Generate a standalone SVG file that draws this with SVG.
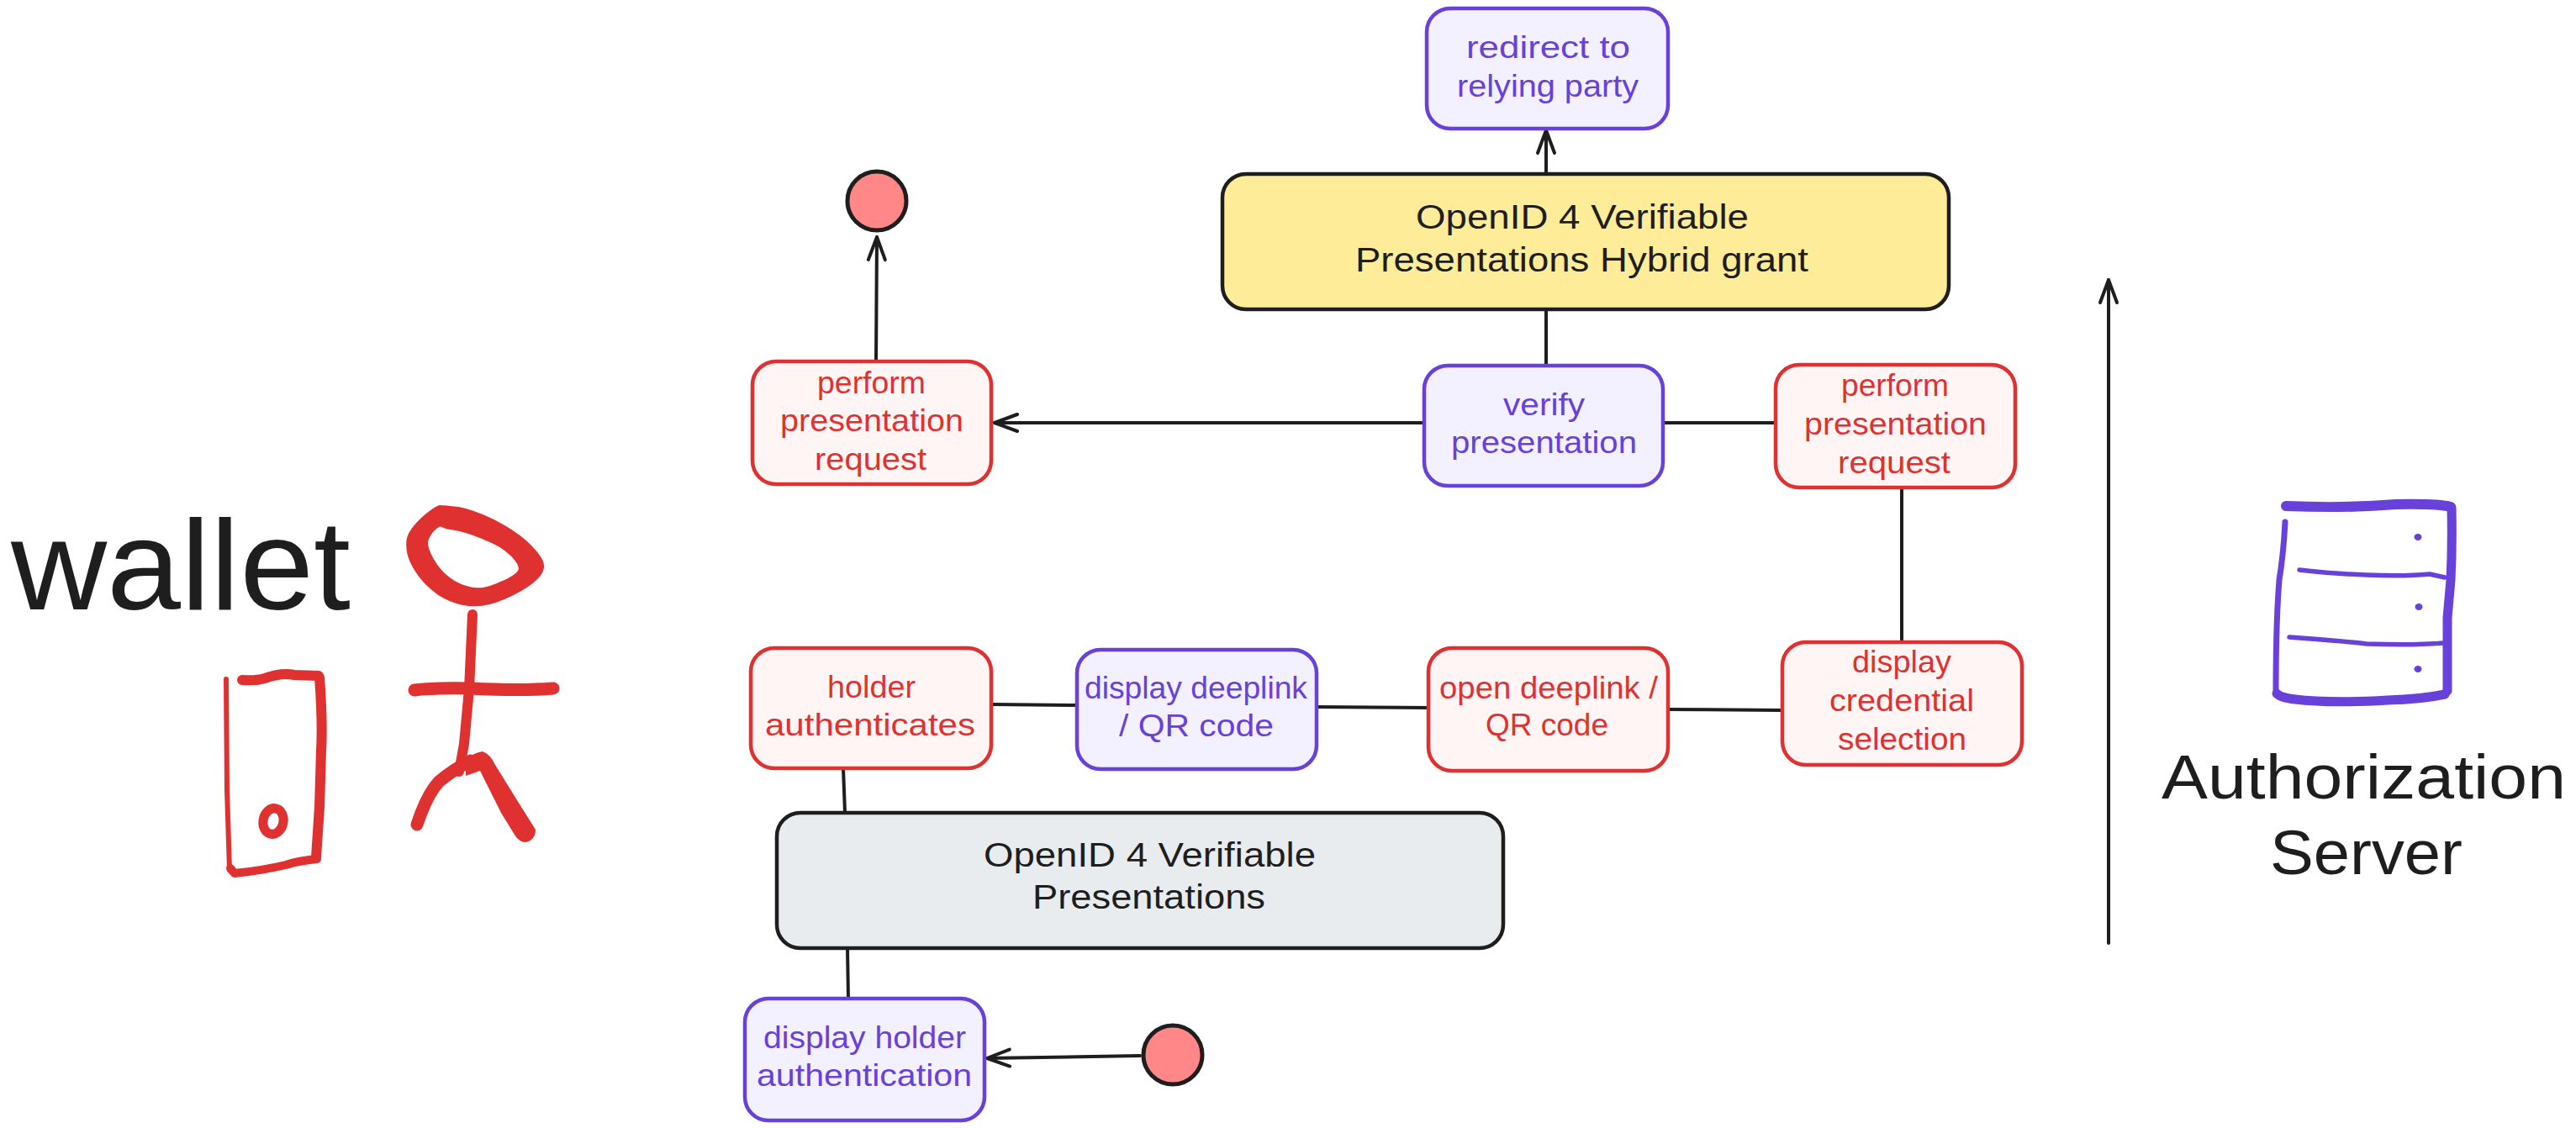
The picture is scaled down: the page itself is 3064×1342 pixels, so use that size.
<svg xmlns="http://www.w3.org/2000/svg" width="3064" height="1342" viewBox="0 0 3064 1342">
<style>
text{font-family:"Liberation Sans",Arial,sans-serif;font-size:37px;white-space:pre}
.k{fill:#1e1e1e}.r{fill:#e03131}.p{fill:#6741d9}
.big{font-size:40px}
.box{stroke-width:4.5}
.red{fill:#fff5f5;stroke:#e03131}
.pur{fill:#f3f0ff;stroke:#6741d9}
.yel{fill:#ffec99;stroke:#1e1e1e}
.gry{fill:#e9ecef;stroke:#1e1e1e}
.dot{fill:#ff8787;stroke:#1e1e1e;stroke-width:5}
.c{fill:none;stroke:#1e1e1e;stroke-width:4;stroke-linecap:round}
.s{fill:none;stroke-linecap:round;stroke-linejoin:round}
.sr{stroke:#e03131}.sp{stroke:#6741d9}
</style>
<defs>
<marker id="arr" markerUnits="userSpaceOnUse" markerWidth="40" markerHeight="32" refX="33" refY="16" orient="auto">
<path d="M6,6 L33,16 L6,26" fill="none" stroke="#1e1e1e" stroke-width="4" stroke-linecap="round" stroke-linejoin="round"/>
</marker>
</defs>
<rect width="3064" height="1342" fill="#ffffff"/>
<g id="connectors">
<path class="c" marker-end="url(#arr)" d="M1839,207 L1839,155"/>
<path class="c" d="M1839,368 L1839,435"/>
<path class="c" marker-end="url(#arr)" d="M1042,430 L1043,282"/>
<path class="c" marker-end="url(#arr)" d="M1694,503 L1183,503"/>
<path class="c" d="M1978,503 L2112,503"/>
<path class="c" d="M2262,580 L2262,764"/>
<path class="c" d="M1179,838 L1281,839"/>
<path class="c" d="M1566,841 L1699,842"/>
<path class="c" d="M1984,844 L2120,845"/>
<path class="c" d="M1003,914 L1005,967"/>
<path class="c" d="M1008,1128 L1009,1188"/>
<path class="c" marker-end="url(#arr)" d="M1356,1256 L1174,1259"/>
<path class="c" marker-end="url(#arr)" d="M2508,1122 L2508,333"/>
</g>
<g id="wallet-label"><text class="k" x="13" y="725" style="font-size:152px" textLength="404" lengthAdjust="spacingAndGlyphs">wallet</text></g>
<g id="person">
<path fill="#e03131" stroke="#e03131" stroke-width="4" stroke-linejoin="round" fill-rule="evenodd" d="M523,603 Q529,603 545,605 Q562,608 587,620 Q612,633 625,645 Q638,657 643,666 Q648,675 641,684 Q634,693 616,703 Q598,713 582,717 Q567,721 551,718 Q536,715 522,706 Q509,697 500,685 Q491,673 487,661 Q484,650 486,640 Q489,630 503,617 Q518,604 523,603Z M526,625 Q531,628 542,629 Q554,631 576,640 Q598,648 610,661 Q623,675 617,681 Q612,688 591,696 Q571,704 558,700 Q545,697 533,688 Q522,680 514,666 Q507,653 507,646 Q507,640 514,631 Q522,623 526,625Z"/>
<path class="s sr" stroke-width="12" d="M562,731 L558,820 L552,885 L546,918"/>
<path class="s sr" stroke-width="15" d="M493,821 Q520,818 560,819 Q620,822 658,819"/>
<path class="s sr" stroke-width="15" d="M496,981 Q508,945 522,930 Q540,915 560,905"/>
<path fill="#e03131" d="M554,903 Q565,895 574,894 Q583,897 589,910 L620,960 L637,987 Q637,993 634,997 Q630,1002 623,1002 Q616,1000 612,993 L596,967 L571,917 L554,923Z"/>
</g>
<g id="phone">
<path class="s sr" stroke-width="6" d="M269,808 L270,940 L273,1035"/>
<path class="s sr" stroke-width="12" d="M288,809 Q305,810 315,807 Q335,800 350,803 L379,804"/>
<path class="s sr" stroke-width="12" d="M380,806 Q384,860 382,893 L380,960 L376,1020"/>
<path class="s sr" stroke-width="10" d="M377,1022 Q355,1024 340,1029 Q310,1036 279,1039 L274,1033"/>
<ellipse cx="325" cy="977" rx="12" ry="15.5" fill="none" stroke="#e03131" stroke-width="11" transform="rotate(12 325 977)"/>
</g>
<g id="server">
<path class="s sp" stroke-width="12" d="M2719,602 Q2790,605 2850,600 Q2900,599 2915,603"/>
<path class="s sp" stroke-width="11" d="M2916,604 Q2917,650 2915,690 L2911,735 L2911,822"/>
<path class="s sp" stroke-width="11" d="M2908,826 Q2880,832 2840,833 Q2770,837 2730,832 Q2712,830 2708,825"/>
<path class="s sp" stroke-width="7" d="M2718,621 Q2716,660 2711,690 Q2707,740 2707,823"/>
<path class="s sp" stroke-width="5.5" d="M2735,678 Q2780,683 2815,684 Q2860,686 2890,683 L2908,687"/>
<path class="s sp" stroke-width="5.5" d="M2723,758 Q2780,762 2815,766 Q2870,768 2906,765"/>
<ellipse cx="2876" cy="639" rx="4.5" ry="4" fill="#6741d9"/>
<ellipse cx="2877" cy="722" rx="4.5" ry="4" fill="#6741d9"/>
<ellipse cx="2876" cy="796" rx="4.5" ry="4" fill="#6741d9"/>
</g>
<g id="server-label">
<text class="k" x="2571" y="950" style="font-size:74px" textLength="481" lengthAdjust="spacingAndGlyphs">Authorization</text>
<text class="k" x="2700" y="1040" style="font-size:74px" textLength="229" lengthAdjust="spacingAndGlyphs">Server</text>
</g>
<g id="redirect"><rect class="box pur" x="1697" y="10" width="287" height="143" rx="28"/>
<text class="p" x="1744" y="69" textLength="195" lengthAdjust="spacingAndGlyphs">redirect to</text>
<text class="p" x="1733" y="115" textLength="216" lengthAdjust="spacingAndGlyphs">relying party</text></g>
<g id="hybrid-grant"><rect class="box yel" x="1454" y="207" width="864" height="161" rx="28"/>
<text class="k big" x="1684" y="272" textLength="396" lengthAdjust="spacingAndGlyphs">OpenID 4 Verifiable</text>
<text class="k big" x="1612" y="323" textLength="539" lengthAdjust="spacingAndGlyphs">Presentations Hybrid grant</text></g>
<g id="end-top"><circle class="dot" cx="1043" cy="239" r="35"/></g>
<g id="perform-left"><rect class="box red" x="895" y="430" width="284" height="146" rx="28"/>
<text class="r" x="972" y="468" textLength="129" lengthAdjust="spacingAndGlyphs">perform</text>
<text class="r" x="928" y="513" textLength="218" lengthAdjust="spacingAndGlyphs">presentation</text>
<text class="r" x="969" y="559" textLength="133" lengthAdjust="spacingAndGlyphs">request</text></g>
<g id="verify"><rect class="box pur" x="1694" y="435" width="284" height="143" rx="28"/>
<text class="p" x="1788" y="494" textLength="97" lengthAdjust="spacingAndGlyphs">verify</text>
<text class="p" x="1726" y="539" textLength="221" lengthAdjust="spacingAndGlyphs">presentation</text></g>
<g id="perform-right"><rect class="box red" x="2112" y="434" width="285" height="146" rx="28"/>
<text class="r" x="2190" y="471" textLength="128" lengthAdjust="spacingAndGlyphs">perform</text>
<text class="r" x="2146" y="517" textLength="217" lengthAdjust="spacingAndGlyphs">presentation</text>
<text class="r" x="2186" y="563" textLength="134" lengthAdjust="spacingAndGlyphs">request</text></g>
<g id="holder-auth"><rect class="box red" x="893" y="771" width="286" height="143" rx="28"/>
<text class="r" x="984" y="830" textLength="105" lengthAdjust="spacingAndGlyphs">holder</text>
<text class="r" x="910" y="875" textLength="250" lengthAdjust="spacingAndGlyphs">authenticates</text></g>
<g id="display-deeplink"><rect class="box pur" x="1281" y="773" width="285" height="142" rx="28"/>
<text class="p" x="1290" y="831" textLength="265" lengthAdjust="spacingAndGlyphs">display deeplink</text>
<text class="p" x="1331" y="876" textLength="184" lengthAdjust="spacingAndGlyphs">/ QR code</text></g>
<g id="open-deeplink"><rect class="box red" x="1699" y="771" width="285" height="146" rx="28"/>
<text class="r" x="1712" y="831" textLength="260" lengthAdjust="spacingAndGlyphs">open deeplink /</text>
<text class="r" x="1767" y="875" textLength="146" lengthAdjust="spacingAndGlyphs">QR code</text></g>
<g id="display-credential"><rect class="box red" x="2120" y="764" width="285" height="146" rx="28"/>
<text class="r" x="2203" y="800" textLength="118" lengthAdjust="spacingAndGlyphs">display</text>
<text class="r" x="2176" y="846" textLength="172" lengthAdjust="spacingAndGlyphs">credential</text>
<text class="r" x="2186" y="892" textLength="153" lengthAdjust="spacingAndGlyphs">selection</text></g>
<g id="oid4vp"><rect class="box gry" x="924" y="967" width="864" height="161" rx="28"/>
<text class="k big" x="1170" y="1031" textLength="395" lengthAdjust="spacingAndGlyphs">OpenID 4 Verifiable</text>
<text class="k big" x="1228" y="1081" textLength="277" lengthAdjust="spacingAndGlyphs">Presentations</text></g>
<g id="display-holder"><rect class="box pur" x="886" y="1188" width="285" height="145" rx="28"/>
<text class="p" x="908" y="1247" textLength="241" lengthAdjust="spacingAndGlyphs">display holder</text>
<text class="p" x="900" y="1292" textLength="256" lengthAdjust="spacingAndGlyphs">authentication</text></g>
<g id="start-bottom"><circle class="dot" cx="1395" cy="1255" r="35"/></g>
</svg>
